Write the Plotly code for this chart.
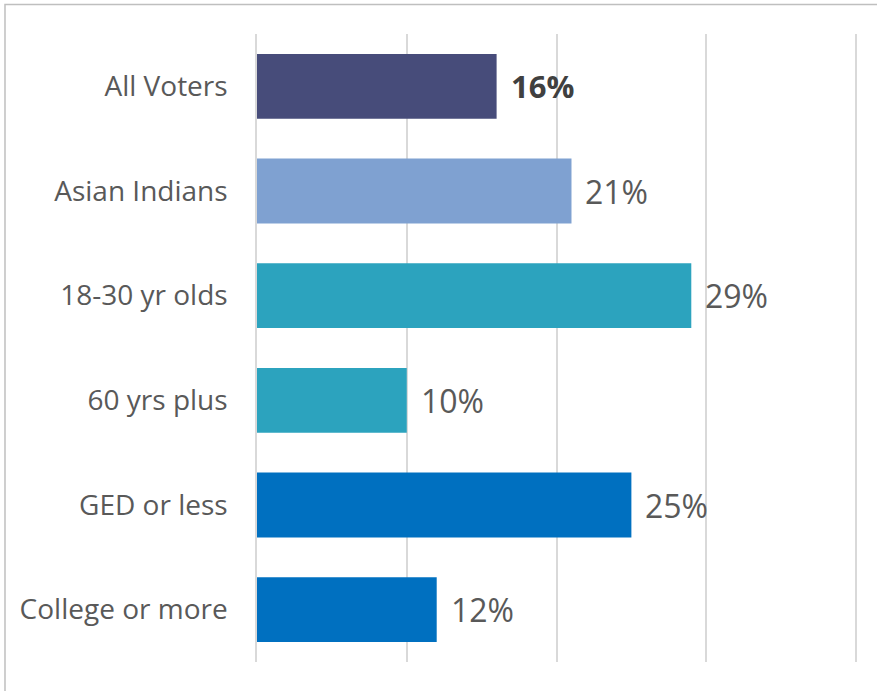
import plotly.graph_objects as go

categories = ["All Voters", "Asian Indians", "18-30 yr olds", "60 yrs plus", "GED or less", "College or more"]
values = [16, 21, 29, 10, 25, 12]
value_labels = ["<b>16%</b>", "21%", "29%", "10%", "25%", "12%"]
colors = ["#474C7A", "#7FA1D1", "#2CA3BE", "#2CA3BE", "#0070C0", "#0070C0"]
label_colors = ["#404040", "#595959", "#595959", "#595959", "#595959", "#595959"]
label_sizes = [31, 32, 32, 32, 32, 32]
x_ticks = [0, 10, 20, 30, 40]
x_max = 41

fig = go.Figure()
fig.add_trace(go.Bar(
    y=categories, x=values, orientation="h",
    marker=dict(color=colors, line=dict(width=0)),
    hoverinfo="skip",
))

for c, v, t, lc, ls in zip(categories, values, value_labels, label_colors, label_sizes):
    fig.add_annotation(x=v, y=c, text=t, showarrow=False, xanchor="left",
                       xshift=12, font=dict(family="Open Sans", size=ls, color=lc))

W, H = 877, 691
L, T, B = 257, 33.5, 28.5
pw = 599 / 40 * x_max
R = W - L - pw
ph = H - T - B
fig.add_shape(type="rect", xref="paper", yref="paper",
              x0=(5 - L) / pw, x1=1 + (R + 10) / pw,
              y0=-(B + 10) / ph, y1=1 + (T - 4) / ph,
              line=dict(color="#BFBFBF", width=1.5), layer="below")

fig.update_layout(
    width=W, height=H,
    margin=dict(l=L, r=R, t=T, b=B),
    paper_bgcolor="white", plot_bgcolor="white",
    bargap=0.38, showlegend=False,
    font=dict(family="Open Sans", color="#595959"),
)
fig.update_xaxes(range=[0, x_max], tickvals=x_ticks, showticklabels=False,
                 showgrid=True, gridcolor="#D9D9D9", gridwidth=1.5,
                 zeroline=False, showline=False, fixedrange=True)
fig.update_yaxes(categoryorder="array", categoryarray=categories, autorange="reversed",
                 tickfont=dict(family="Open Sans", size=28, color="#595959"),
                 ticklabelstandoff=22, showline=True, linecolor="#D9D9D9", linewidth=1.5,
                 showgrid=False, zeroline=False, ticks="", fixedrange=True)

fig.write_html("out.html", config={"displayModeBar": False},
               post_script="document.body.style.margin='0';document.body.style.overflow='hidden';")
